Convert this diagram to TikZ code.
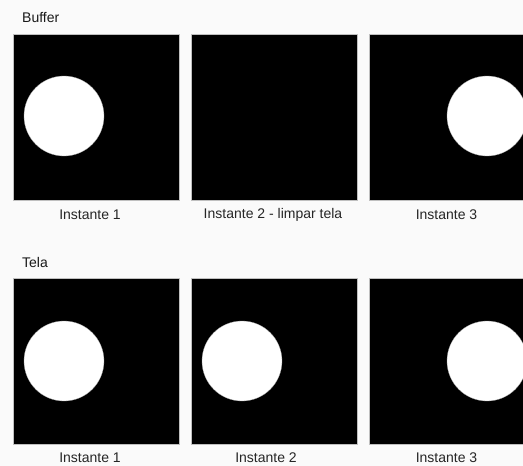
\documentclass[tikz,border=0pt]{standalone}
\usepackage{fontspec}
\setmainfont{Liberation Sans}
\begin{document}
\begin{tikzpicture}[x=1pt,y=-1pt,
  panel/.style={fill=black,draw=black!25,line width=0.6pt},
  ball/.style={fill=white,draw=black!40,line width=0.3pt},
  lbl/.style={font=\fontsize{14}{16}\selectfont,inner sep=0pt,text=black!85},
  ttl/.style={font=\fontsize{14}{16}\selectfont,inner sep=0pt,anchor=west,text=black!90}]
\fill[white!98!black] (0,0) rectangle (523,466);
\useasboundingbox (0,0) rectangle (523,466);
\begin{scope}
\clip (0,0) rectangle (523,466);
% top row
\draw[panel] (13,34) rectangle (179,200);
\draw[panel] (191,34) rectangle (357,200);
\draw[panel] (369,34) rectangle (535,200);
\fill[ball] (64,116) circle (40);
\begin{scope}\clip (369,34) rectangle (523,200);
\fill[ball] (487,116) circle (40);\end{scope}
% bottom row
\draw[panel] (13,278) rectangle (179,444);
\draw[panel] (191,278) rectangle (357,444);
\draw[panel] (369,278) rectangle (535,444);
\fill[ball] (64,361) circle (40);
\fill[ball] (242,361) circle (40);
\begin{scope}\clip (369,278) rectangle (523,444);
\fill[ball] (487,361) circle (40);\end{scope}
\end{scope}
\node[ttl] (buffer) at (22,18) {Buffer};
\node[ttl] (tela) at (22,262) {Tela};
\node[lbl] (b1) at (90,215) {Instante 1};
\node[lbl] (b2) at (273,215) {Instante 2 - limpar tela};
\node[lbl] (b3) at (446.5,215) {Instante 3};
\node[lbl] (t1) at (90,458) {Instante 1};
\node[lbl] (t2) at (266,458) {Instante 2};
\node[lbl] (t3) at (446.5,458) {Instante 3};
\end{tikzpicture}
\end{document}
